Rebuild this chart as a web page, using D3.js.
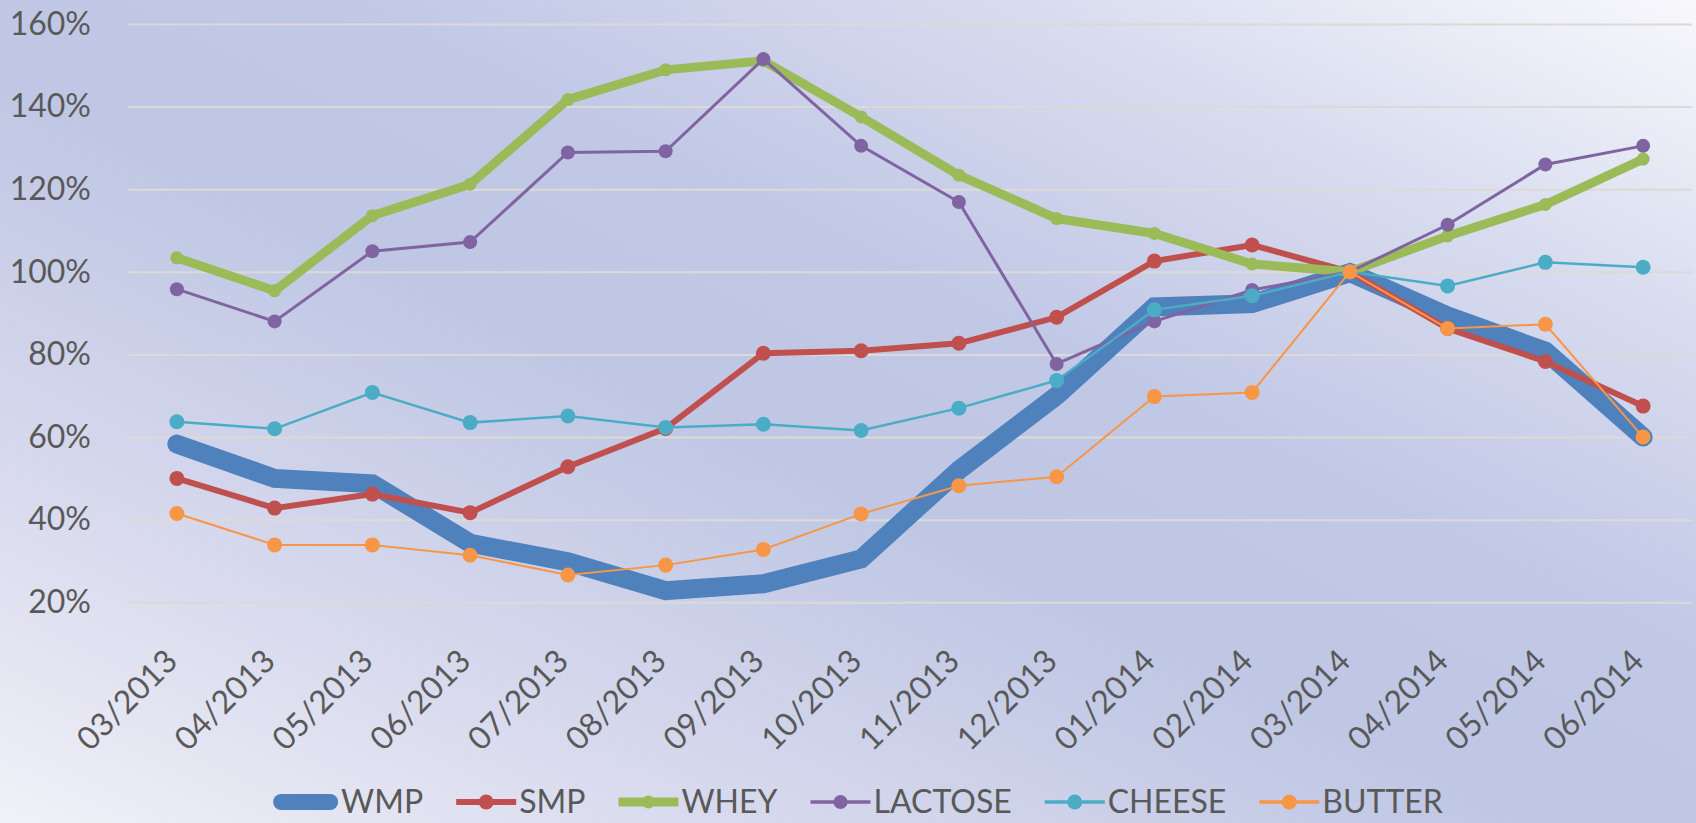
<!DOCTYPE html>
<html>
<head>
<meta charset="utf-8">
<script src="https://cdn.jsdelivr.net/npm/d3@7"></script>
<style>
  html, body { margin: 0; padding: 0; background: #ffffff; }
  svg { display: block; }
  text { font-family: Lato, "Open Sans", sans-serif; fill: #595959; }
</style>
</head>
<body>
<svg id="chart" width="1696" height="823"></svg>
<script>
// Monthly price index of dairy commodities (03/2014 = 100%)
const months = ["03/2013", "04/2013", "05/2013", "06/2013", "07/2013", "08/2013",
                "09/2013", "10/2013", "11/2013", "12/2013", "01/2014", "02/2014",
                "03/2014", "04/2014", "05/2014", "06/2014"];

const wmp     = [58.3, 50.0, 48.7, 34.3, 29.8, 22.8, 24.5, 30.5, 52.0, 70.0, 91.5, 92.3, 99.8, 89.3, 80.8, 60.0];
const smp     = [50.0, 42.8, 46.2, 41.7, 52.8, 62.1, 80.3, 80.9, 82.7, 89.0, 102.6, 106.5, 100.0, 86.3, 78.3, 67.5];
const whey    = [103.4, 95.4, 113.6, 121.2, 141.7, 148.9, 151.1, 137.5, 123.4, 112.9, 109.3, 101.9, 100.0, 108.7, 116.3, 127.3];
const lactose = [95.8, 88.0, 105.0, 107.2, 128.9, 129.2, 151.5, 130.5, 116.9, 77.7, 88.0, 95.6, 100.0, 111.4, 126.0, 130.5];
const cheese  = [63.7, 62.0, 70.8, 63.5, 65.1, 62.3, 63.1, 61.6, 67.0, 73.7, 90.8, 94.2, 100.0, 96.6, 102.3, 101.1];
const butter  = [41.5, 33.9, 33.9, 31.4, 26.6, 29.0, 32.8, 41.4, 48.2, 50.4, 69.8, 70.8, 100.0, 86.3, 87.3, 60.0];

const seriesNames = ["WMP", "SMP", "WHEY", "LACTOSE", "CHEESE", "BUTTER"];
const yTicks = [20, 40, 60, 80, 100, 120, 140, 160];

// Styling per series: colour, line width, marker radius
const styles = {
  WMP:     { color: "#4F81BD", width: 19,  r: 0,   cap: "round" },
  SMP:     { color: "#C0504D", width: 6,   r: 7.5, cap: "round" },
  WHEY:    { color: "#9BBB59", width: 9,   r: 6.5, cap: "round" },
  LACTOSE: { color: "#8064A2", width: 3,   r: 7,   cap: "round" },
  CHEESE:  { color: "#4BACC6", width: 2.5, r: 7.5, cap: "round" },
  BUTTER:  { color: "#F79646", width: 2,   r: 7.5, cap: "round" }
};

const series = [
  { name: "WMP", values: wmp },
  { name: "SMP", values: smp },
  { name: "WHEY", values: whey },
  { name: "LACTOSE", values: lactose },
  { name: "CHEESE", values: cheese },
  { name: "BUTTER", values: butter }
];

const W = 1696, H = 823;
const plot = { left: 128, right: 1692, top: 24, bottom: 602.3 };

const svg = d3.select("#chart");

// Background gradient
const defs = svg.append("defs");
const grad = defs.append("linearGradient")
  .attr("id", "bg")
  .attr("x1", 0).attr("y1", 1).attr("x2", 1).attr("y2", 0);
[[0, "#f1f1f8"], [0.2, "#dadbee"], [0.45, "#bfc7e4"], [0.6, "#c1c8e6"], [0.8, "#d8dcef"], [1, "#f8f8fc"]]
  .forEach(([o, c]) => grad.append("stop").attr("offset", o).attr("stop-color", c));
svg.append("rect").attr("width", W).attr("height", H).attr("fill", "url(#bg)");

const x = d3.scalePoint().domain(months).range([plot.left, plot.right]).padding(0.5);
const y = d3.scaleLinear().domain([20, 160]).range([plot.bottom, plot.top]);

// Horizontal gridlines
svg.append("g")
  .attr("transform", `translate(${plot.left},0)`)
  .call(d3.axisLeft(y).tickValues(yTicks).tickSize(-(plot.right - plot.left)).tickFormat(""))
  .call(g => g.select(".domain").remove())
  .call(g => g.selectAll("line").attr("stroke", "#dcdad6").attr("stroke-width", 2));

// Y axis labels
svg.append("g")
  .attr("transform", `translate(${plot.left},0)`)
  .call(d3.axisLeft(y).tickValues(yTicks).tickSize(0).tickPadding(37).tickFormat(d => d + "%"))
  .call(g => g.select(".domain").remove())
  .call(g => g.selectAll("text")
    .attr("font-size", 32)
    .attr("font-family", "Lato, 'Open Sans', sans-serif")
    .attr("fill", "#595959"));

// X axis labels, rotated
svg.append("g")
  .attr("transform", `translate(0,${plot.bottom})`)
  .call(d3.axisBottom(x).tickSize(0))
  .call(g => g.select(".domain").remove())
  .call(g => g.selectAll("text")
    .attr("font-size", 32)
    .attr("font-family", "Lato, 'Open Sans', sans-serif")
    .attr("fill", "#595959")
    .attr("x", 0).attr("y", 0).attr("dy", "0.35em")
    .attr("text-anchor", "end")
    .attr("transform", "translate(-6,53) rotate(-45)"));

// Lines and markers
const line = d3.line().x((d, i) => x(months[i])).y(d => y(d));

series.forEach(s => {
  const st = styles[s.name];
  const g = svg.append("g").attr("class", "series");
  g.append("path")
    .datum(s.values)
    .attr("d", line)
    .attr("fill", "none")
    .attr("stroke", st.color)
    .attr("stroke-width", st.width)
    .attr("stroke-linecap", st.cap)
    .attr("stroke-linejoin", "miter");
  if (st.r > 0) {
    g.selectAll("circle")
      .data(s.values)
      .join("circle")
      .attr("cx", (d, i) => x(months[i]))
      .attr("cy", d => y(d))
      .attr("r", st.r)
      .attr("fill", st.color);
  }
});

// Legend
const legendY = 802;
const symLen = 60, textGap = 3, itemGap = 33;
const legend = svg.append("g");
const items = seriesNames.map(name => {
  const g = legend.append("g");
  const st = styles[name];
  const len = name === "WMP" ? 65 : symLen;
  g.append("line")
    .attr("x1", name === "WMP" ? 8 : 0).attr("x2", name === "WMP" ? len - 8 : len)
    .attr("y1", 0).attr("y2", 0)
    .attr("stroke", st.color)
    .attr("stroke-width", name === "WMP" ? 16 : Math.max(st.width, 3.5))
    .attr("stroke-linecap", name === "WMP" ? "round" : "butt");
  if (st.r > 0) {
    g.append("circle").attr("cx", len / 2).attr("cy", 0).attr("r", st.r).attr("fill", st.color);
  }
  const t = g.append("text")
    .attr("x", len + textGap).attr("y", 0).attr("dy", "0.35em")
    .attr("font-size", 32)
    .text(name);
  return { g, w: len + textGap + t.node().getComputedTextLength() };
});
const total = d3.sum(items, d => d.w) + itemGap * (items.length - 1);
let cx = 858 - total / 2;
items.forEach(it => {
  it.g.attr("transform", `translate(${cx},${legendY})`);
  cx += it.w + itemGap;
});
</script>
</body>
</html>
